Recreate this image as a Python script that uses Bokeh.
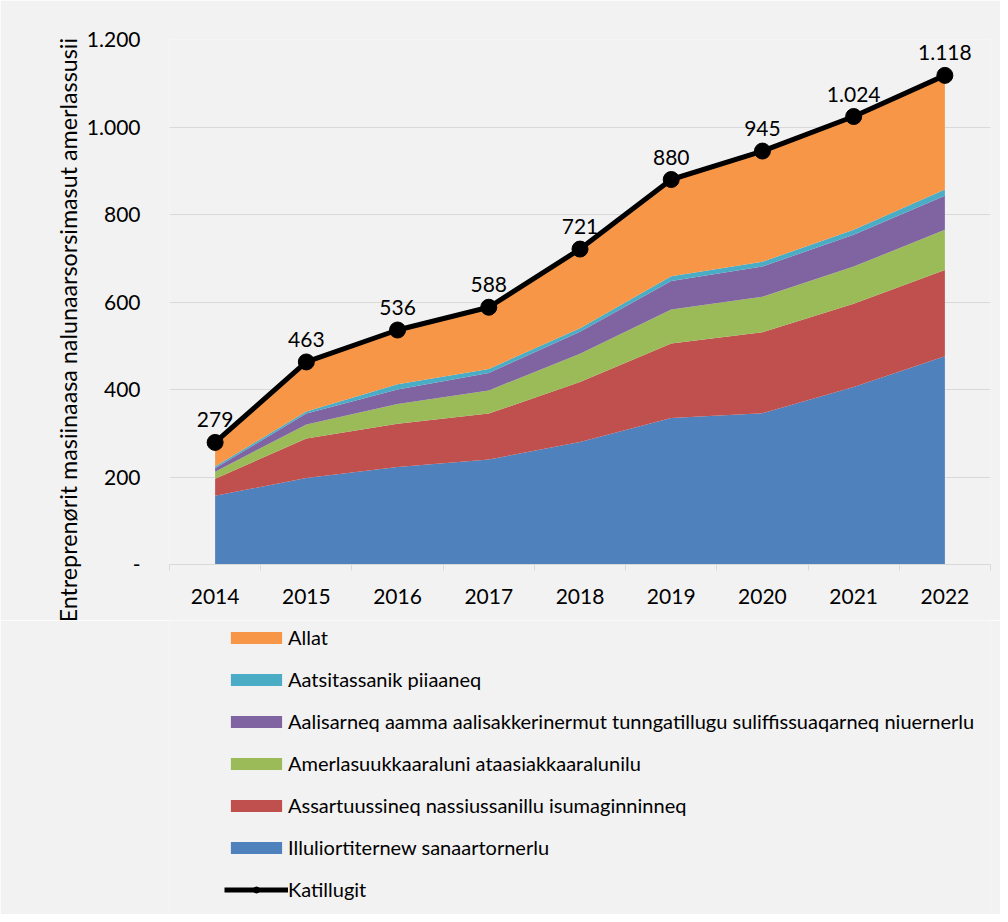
from bokeh.plotting import figure
from bokeh.layouts import column
from bokeh.models import (ColumnDataSource, FixedTicker, Legend, LegendItem, Range1d, Title)
from bokeh.core.properties import value
from bokeh.embed import file_html
from bokeh.resources import INLINE

years = [2014, 2015, 2016, 2017, 2018, 2019, 2020, 2021, 2022]
illuliortiternew = [157, 198, 223, 240, 280, 335, 346, 406, 476]
assartuussineq = [39, 90, 99, 105, 137, 170, 185, 190, 197]
amerlasuukkaaraluni = [16, 32, 45, 53, 65, 78, 81, 85, 92]
aalisarneq = [8, 25, 33, 40, 50, 65, 69, 73, 78]
aatsitassanik = [4, 5, 12, 9, 8, 11, 11, 11, 14]
katillugit = [279, 463, 536, 588, 721, 880, 945, 1024, 1118]
allat = [t - a - b - c - d - e for t, a, b, c, d, e in
         zip(katillugit, illuliortiternew, assartuussineq, amerlasuukkaaraluni, aalisarneq, aatsitassanik)]

series_names = [
    "Illuliortiternew sanaartornerlu",
    "Assartuussineq nassiussanillu isumaginninneq",
    "Amerlasuukkaaraluni ataasiakkaaralunilu",
    "Aalisarneq aamma aalisakkerinermut tunngatillugu suliffissuaqarneq niuernerlu",
    "Aatsitassanik piiaaneq",
    "Allat",
]
colors = ["#4f81bd", "#c0504d", "#9bbb59", "#8064a2", "#4bacc6", "#f79646"]
total_name = "Katillugit"
y_title = "Entreprenørit masiinaasa nalunaarsorsimasut amerlassusii"
y_ticks = [0, 200, 400, 600, 800, 1000, 1200]
y_tick_labels = ["-", "200", "400", "600", "800", "1.000", "1.200"]

FONT = "Lato"
BG = "#f2f2f2"

keys = ["s0", "s1", "s2", "s3", "s4", "s5"]
source = ColumnDataSource(dict(
    x=years,
    s0=illuliortiternew, s1=assartuussineq, s2=amerlasuukkaaraluni,
    s3=aalisarneq, s4=aatsitassanik, s5=allat,
    total=katillugit,
    label=[f"{v:,}".replace(",", ".") for v in katillugit],
))

p = figure(width=1000, height=620, output_backend="svg", toolbar_location=None,
           x_range=Range1d(years[0] - 0.5, years[-1] + 0.5),
           y_range=Range1d(0, 1200),
           min_border_left=169, min_border_right=10, min_border_top=39,
           min_border_bottom=56)
p.background_fill_color = BG
p.border_fill_color = BG
p.outline_line_color = None

areas = p.varea_stack(stackers=keys, x="x", color=colors, source=source)

line_r = p.line("x", "total", source=source, line_color="black", line_width=5)
dot_r = p.scatter("x", "total", source=source, size=16, fill_color="black", line_color="black")
p.text("x", "total", text="label", source=source, text_align="center", text_baseline="bottom",
       y_offset=-15, text_font=value(FONT), text_font_size="21px", text_color="black")

# axes
p.xgrid.grid_line_color = None
p.ygrid.grid_line_color = "#d9d9d9"
p.ygrid.grid_line_width = 1
p.ygrid.ticker = FixedTicker(ticks=y_ticks)

p.xaxis.ticker = FixedTicker(ticks=years, minor_ticks=[y - 0.5 for y in years] + [years[-1] + 0.5])
p.xaxis.axis_line_color = "#d9d9d9"
p.xaxis.axis_line_width = 1
p.xaxis.major_tick_line_color = None
p.xaxis.major_tick_out = 0
p.xaxis.major_tick_in = 0
p.xaxis.minor_tick_line_color = "#d9d9d9"
p.xaxis.minor_tick_out = 6
p.xaxis.minor_tick_in = 0
p.xaxis.major_label_standoff = 18
p.xaxis.major_label_text_font = FONT
p.xaxis.major_label_text_font_size = "21px"
p.xaxis.major_label_text_color = "black"

p.yaxis.ticker = FixedTicker(ticks=y_ticks)
p.yaxis.major_label_overrides = {t: l for t, l in zip(y_ticks, y_tick_labels)}
p.yaxis.axis_line_color = None
p.yaxis.major_tick_line_color = None
p.yaxis.minor_tick_line_color = None
p.yaxis.major_tick_out = 0
p.yaxis.major_label_standoff = 29
p.yaxis.major_label_text_font = FONT
p.yaxis.major_label_text_font_size = "21px"
p.yaxis.major_label_text_color = "black"

# vertical axis title, starting a little below the frame bottom (as in the original)
y_title_box = Title(text=y_title, align="left", offset=-58, standoff=4,
                    text_font=FONT, text_font_size="23.3px", text_font_style="normal",
                    text_color="black")
p.add_layout(y_title_box, "left")

# legend panel: a second figure under the chart whose (off-range) renderers
# repeat the same series styles, so that the legend keys match.
lg = figure(width=1000, height=294, output_backend="svg", toolbar_location=None,
            x_axis_type=None, y_axis_type=None,
            x_range=Range1d(0, 1), y_range=Range1d(0, 1),
            min_border_left=169, min_border_right=10, min_border_top=0, min_border_bottom=0)
lg.background_fill_color = BG
lg.border_fill_color = BG
lg.outline_line_color = None
lg.grid.visible = False

key_areas = lg.varea_stack(stackers=keys, x="x", color=colors, source=source)
key_line = lg.line("x", "total", source=source, line_color="black", line_width=5)
key_dot = lg.scatter("x", "total", source=source, size=16, fill_color="black", line_color="black")

items = [LegendItem(label=series_names[i], renderers=[key_areas[i]]) for i in range(5, -1, -1)]
items.append(LegendItem(label=total_name, renderers=[key_line, key_dot]))
legend = Legend(items=items, location=(55, 13), orientation="vertical",
                glyph_width=64, glyph_height=15, label_height=24, label_standoff=0,
                spacing=18, padding=0, margin=0, border_line_color=None,
                background_fill_alpha=0, label_text_font=FONT,
                label_text_font_size="20px", label_text_color="black")
lg.add_layout(legend, "center")

layout = column(p, lg, spacing=0)
open("out.html", "w").write(file_html(layout, INLINE))
